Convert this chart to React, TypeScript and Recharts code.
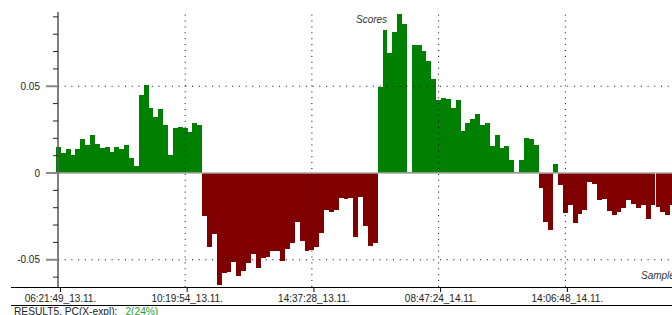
import { BarChart, Bar, XAxis, YAxis, ReferenceLine } from "recharts";

// PC scores, one per sample
const scores = [
  0.015, 0.0115, 0.0138, 0.0104, 0.0138, 0.0196, 0.0162, 0.0219, 0.0167, 0.0144,
  0.015, 0.0121, 0.015, 0.0138, 0.0162, 0.0087, 0.004, 0.045, 0.0508, 0.0375,
  0.0323, 0.0369, 0.0277, 0.0104, 0.026, 0.0265, 0.026, 0.0237, 0.0289, 0.0277,
  -0.0246, -0.0425, -0.035, -0.0644, -0.0575, -0.0569, -0.0512, -0.0592, -0.0563, -0.0517,
  -0.0465, -0.0546, -0.0488, -0.0483, -0.0448, -0.0448, -0.0506, -0.0437, -0.0402, -0.0281,
  -0.039, -0.0448, -0.0442, -0.0425, -0.0344, -0.0212, -0.0223, -0.0212, -0.0142, -0.0148,
  -0.0142, -0.0367, -0.0137, -0.0304, -0.0419, -0.0402, 0.0496, 0.0825, 0.0692, 0.0813,
  0.0917, 0.086, 0.0006, 0.0738, 0.0738, 0.0704, 0.0646, 0.0542, 0.0421, 0.0433,
  0.0427, 0.0375, 0.0421, 0.0242, 0.0288, 0.0312, 0.034, 0.0277, 0.0288, 0.0156,
  0.0219, 0.0144, 0.0156, 0.0075, 0.0003, 0.0075, 0.0202, 0.0196, 0.0162, -0.0085,
  -0.0281, -0.0327, 0.0052, -0.0067, -0.0229, -0.0183, -0.0287, -0.0235, -0.0212, -0.0052,
  -0.0062, -0.0154, -0.0148, -0.0217, -0.024, -0.0223, -0.02, -0.0154, -0.0177, -0.02,
  -0.0183, -0.0263, -0.0183, -0.0194, -0.0223, -0.024, -0.0183,
];

const tickIndex = [0, 26, 52, 78, 104];
const tickLabels = [
  "06:21:49_13.11.",
  "10:19:54_13.11.",
  "14:37:28_13.11.",
  "08:47:24_14.11.",
  "14:06:48_14.11.",
];
const gridIndex = [26, 52, 78, 104];

const yTicks = [-0.06, -0.05, -0.04, -0.03, -0.02, -0.01, 0, 0.01, 0.02, 0.03, 0.04, 0.05, 0.06, 0.07, 0.08, 0.09];
const yMajor = [-0.05, 0, 0.05];
const yLabels = ["-0.05", "0", "0.05"];
const yGrid = [-0.05, 0.05];

const data = scores.map((v, i) => ({ idx: i, score: v }));

const FONT = "'Liberation Sans', Arial, sans-serif";
const POS = "#008000";
const NEG = "#800000";

function YTick(props: any) {
  const { x, y, payload } = props;
  const k = yMajor.findIndex((m) => Math.abs(m - payload.value) < 1e-9);
  if (k >= 0) {
    return (
      <g>
        <line x1={x - 12} x2={x} y1={y} y2={y} stroke="#8a8a8a" strokeWidth={2} />
        <text x={x - 18} y={y} dy="0.36em" textAnchor="end" fontSize={10} fontFamily={FONT} fill="#222">
          {yLabels[k]}
        </text>
      </g>
    );
  }
  return <line x1={x - 5} x2={x} y1={y} y2={y} stroke="#222" strokeWidth={1} />;
}

function XTick(props: any) {
  const { x, y, payload } = props;
  const k = tickIndex.indexOf(payload.value);
  if (k < 0) return <g />;
  return (
    <g>
      <line x1={x + 2} x2={x + 2} y1={y} y2={y + 5} stroke="#000" strokeWidth={1} />
      <text x={x + 2} y={y + 15} textAnchor="middle" fontSize={10} fontFamily={FONT} fill="#222">
        {tickLabels[k]}
      </text>
    </g>
  );
}

function ScoreBar(props: any) {
  const { x, y, width, height, payload } = props;
  if (!height) return <g />;
  const top = Math.min(y, y + height);
  return (
    <rect
      x={x}
      y={top}
      width={width}
      height={Math.abs(height)}
      fill={payload.score >= 0 ? POS : NEG}
      shapeRendering="crispEdges"
    />
  );
}

export default function App() {
  return (
    <div
      style={{
        position: "fixed",
        left: 0,
        top: 0,
        width: 672,
        height: 315,
        overflow: "hidden",
        background: "#fff",
        fontFamily: FONT,
      }}
    >
      <BarChart
        width={675}
        height={315}
        data={data}
        margin={{ top: 12, right: 0, bottom: 0, left: 0 }}
        barCategoryGap={0}
        barGap={0}
      >
        <XAxis
          dataKey="idx"
          type="category"
          interval={0}
          height={28}
          axisLine={false}
          tickLine={false}
          tickSize={0}
          tickMargin={0}
          tick={<XTick />}
          padding={{ left: -2, right: 0 }}
        />
        <YAxis
          type="number"
          domain={[-0.0657, 0.0928]}
          ticks={yTicks}
          interval={0}
          width={58}
          axisLine={{ stroke: "#555", strokeWidth: 1.5 }}
          tickLine={false}
          tickSize={0}
          tickMargin={0}
          tick={<YTick />}
        />
        {yGrid.map((v) => (
          <ReferenceLine key={`h${v}`} y={v} stroke="#000" strokeWidth={1} strokeDasharray="1 5.7" />
        ))}
        {gridIndex.map((v) => (
          <ReferenceLine key={`v${v}`} x={v} stroke="#000" strokeWidth={1} strokeDasharray="1 4.9" />
        ))}
        <Bar dataKey="score" barSize={4.87} isAnimationActive={false} shape={<ScoreBar />} />
        <ReferenceLine y={0} stroke="#a8a8a8" strokeWidth={1.5} />
      </BarChart>

      <div style={{ position: "absolute", left: 356, top: 15, fontSize: 10, lineHeight: "10px", fontStyle: "italic", color: "#333" }}>
        Scores
      </div>
      <div style={{ position: "absolute", left: 641, top: 271, fontSize: 10, lineHeight: "10px", fontStyle: "italic", color: "#333", whiteSpace: "nowrap" }}>
        Samples
      </div>

      <div style={{ position: "absolute", left: 11, top: 287, width: 661, height: 1, background: "#000" }} />
      <div style={{ position: "absolute", left: 11, top: 305, width: 661, height: 1, background: "#000" }} />

      <div style={{ position: "absolute", left: 14, top: 307, fontSize: 10.2, lineHeight: "10px", color: "#222", whiteSpace: "nowrap" }}>
        RESULT5, PC(X-expl):
        <span style={{ color: "#2e9e2e", marginLeft: 8 }}>2(24%)</span>
      </div>
    </div>
  );
}
